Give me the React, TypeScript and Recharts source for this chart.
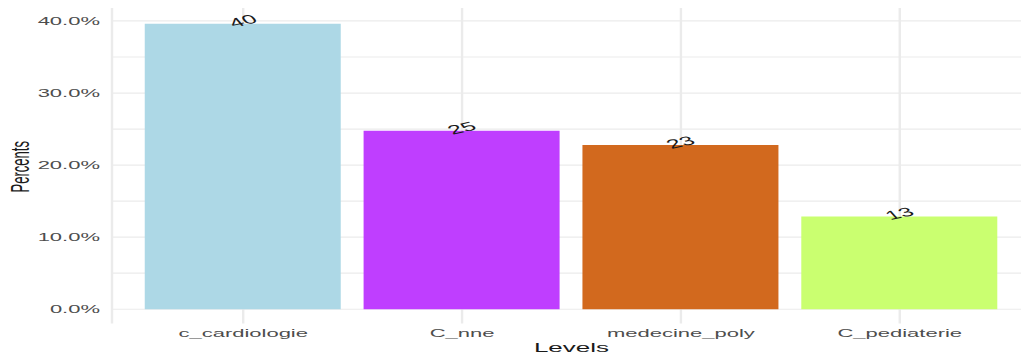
import { Bar, BarChart, CartesianGrid, Cell, LabelList, XAxis, YAxis } from "recharts";

// counts per service; bars show each count as a share of the total
const levels = ["c_cardiologie", "C_nne", "medecine_poly", "C_pediaterie"];
const counts = [40, 25, 23, 13];
const fills = ["#ADD8E6", "#BF3EFF", "#D2691E", "#CAFF70"];
const yTicks = [0, 10, 20, 30, 40];
const gridLines = [0, 5, 10, 15, 20, 25, 30, 35, 40];

const total = counts.reduce((a, b) => a + b, 0);
const data = levels.map((level, i) => ({
  level,
  n: counts[i],
  pct: (counts[i] / total) * 100,
}));

const FONT = "'Liberation Sans', Arial, sans-serif";
const W = 520;
const H = 358;
const PANEL_LEFT = 56;
const PANEL_TOP = 8;
const PANEL_BOTTOM = 323.5;
const PANEL_RIGHT = 515.5;

function ValueLabel(props: any) {
  const { x, y, width, value } = props;
  const cx = x + width / 2;
  const cy = y - 3;
  return (
    <text
      x={cx}
      y={cy}
      transform={`rotate(-24 ${cx} ${cy})`}
      textAnchor="middle"
      dominantBaseline="central"
      fontFamily={FONT}
      fontSize={12.5}
      fill="#1a1a1a"
    >
      {value}
    </text>
  );
}

export default function App() {
  const midY = (PANEL_TOP + PANEL_BOTTOM) / 2;
  const midX = (PANEL_LEFT + PANEL_RIGHT) / 2;
  return (
    <div
      style={{
        position: "absolute",
        left: 0,
        top: 0,
        width: 1021,
        height: H,
        overflow: "hidden",
        background: "#fff",
      }}
    >
      {/* drawn at half width, then stretched to the full width */}
      <div style={{ width: W, height: H, transform: "scaleX(2)", transformOrigin: "0 0" }}>
        <BarChart
          width={W}
          height={H}
          data={data}
          margin={{ top: PANEL_TOP, right: W - PANEL_RIGHT, left: 0, bottom: 0 }}
          barCategoryGap="5%"
        >
          <CartesianGrid stroke="#EBEBEB" strokeWidth={1.2} horizontalValues={gridLines} />
          <XAxis
            dataKey="level"
            height={H - PANEL_BOTTOM - PANEL_TOP + PANEL_TOP}
            padding={{ left: 10.9, right: 10.9 }}
            axisLine={false}
            tickLine={false}
            tickSize={0}
            tickMargin={6}
            tick={{ fill: "#4D4D4D", fontSize: 11, fontFamily: FONT }}
            label={{
              content: () => (
                <text
                  x={midX}
                  y={352.5}
                  textAnchor="middle"
                  fontFamily={FONT}
                  fontSize={13}
                  fill="#1a1a1a"
                >
                  Levels
                </text>
              ),
            }}
          />
          <YAxis
            type="number"
            width={PANEL_LEFT}
            domain={[-1.98, 41.8]}
            allowDataOverflow
            ticks={yTicks}
            tickFormatter={(v: number) => `${v.toFixed(1)}%`}
            axisLine={false}
            tickLine={false}
            tickSize={0}
            tickMargin={6}
            tick={{ fill: "#4D4D4D", fontSize: 11, fontFamily: FONT }}
            label={{
              content: () => (
                <text
                  x={10}
                  y={midY + 1}
                  transform={`rotate(-90 10 ${midY + 1})`}
                  textAnchor="middle"
                  dominantBaseline="central"
                  fontFamily={FONT}
                  fontSize={13}
                  fill="#1a1a1a"
                >
                  Percents
                </text>
              ),
            }}
          />
          <Bar dataKey="pct" isAnimationActive={false}>
            {data.map((d, i) => (
              <Cell key={d.level} fill={fills[i]} />
            ))}
            <LabelList dataKey="n" content={ValueLabel} />
          </Bar>
        </BarChart>
      </div>
    </div>
  );
}
